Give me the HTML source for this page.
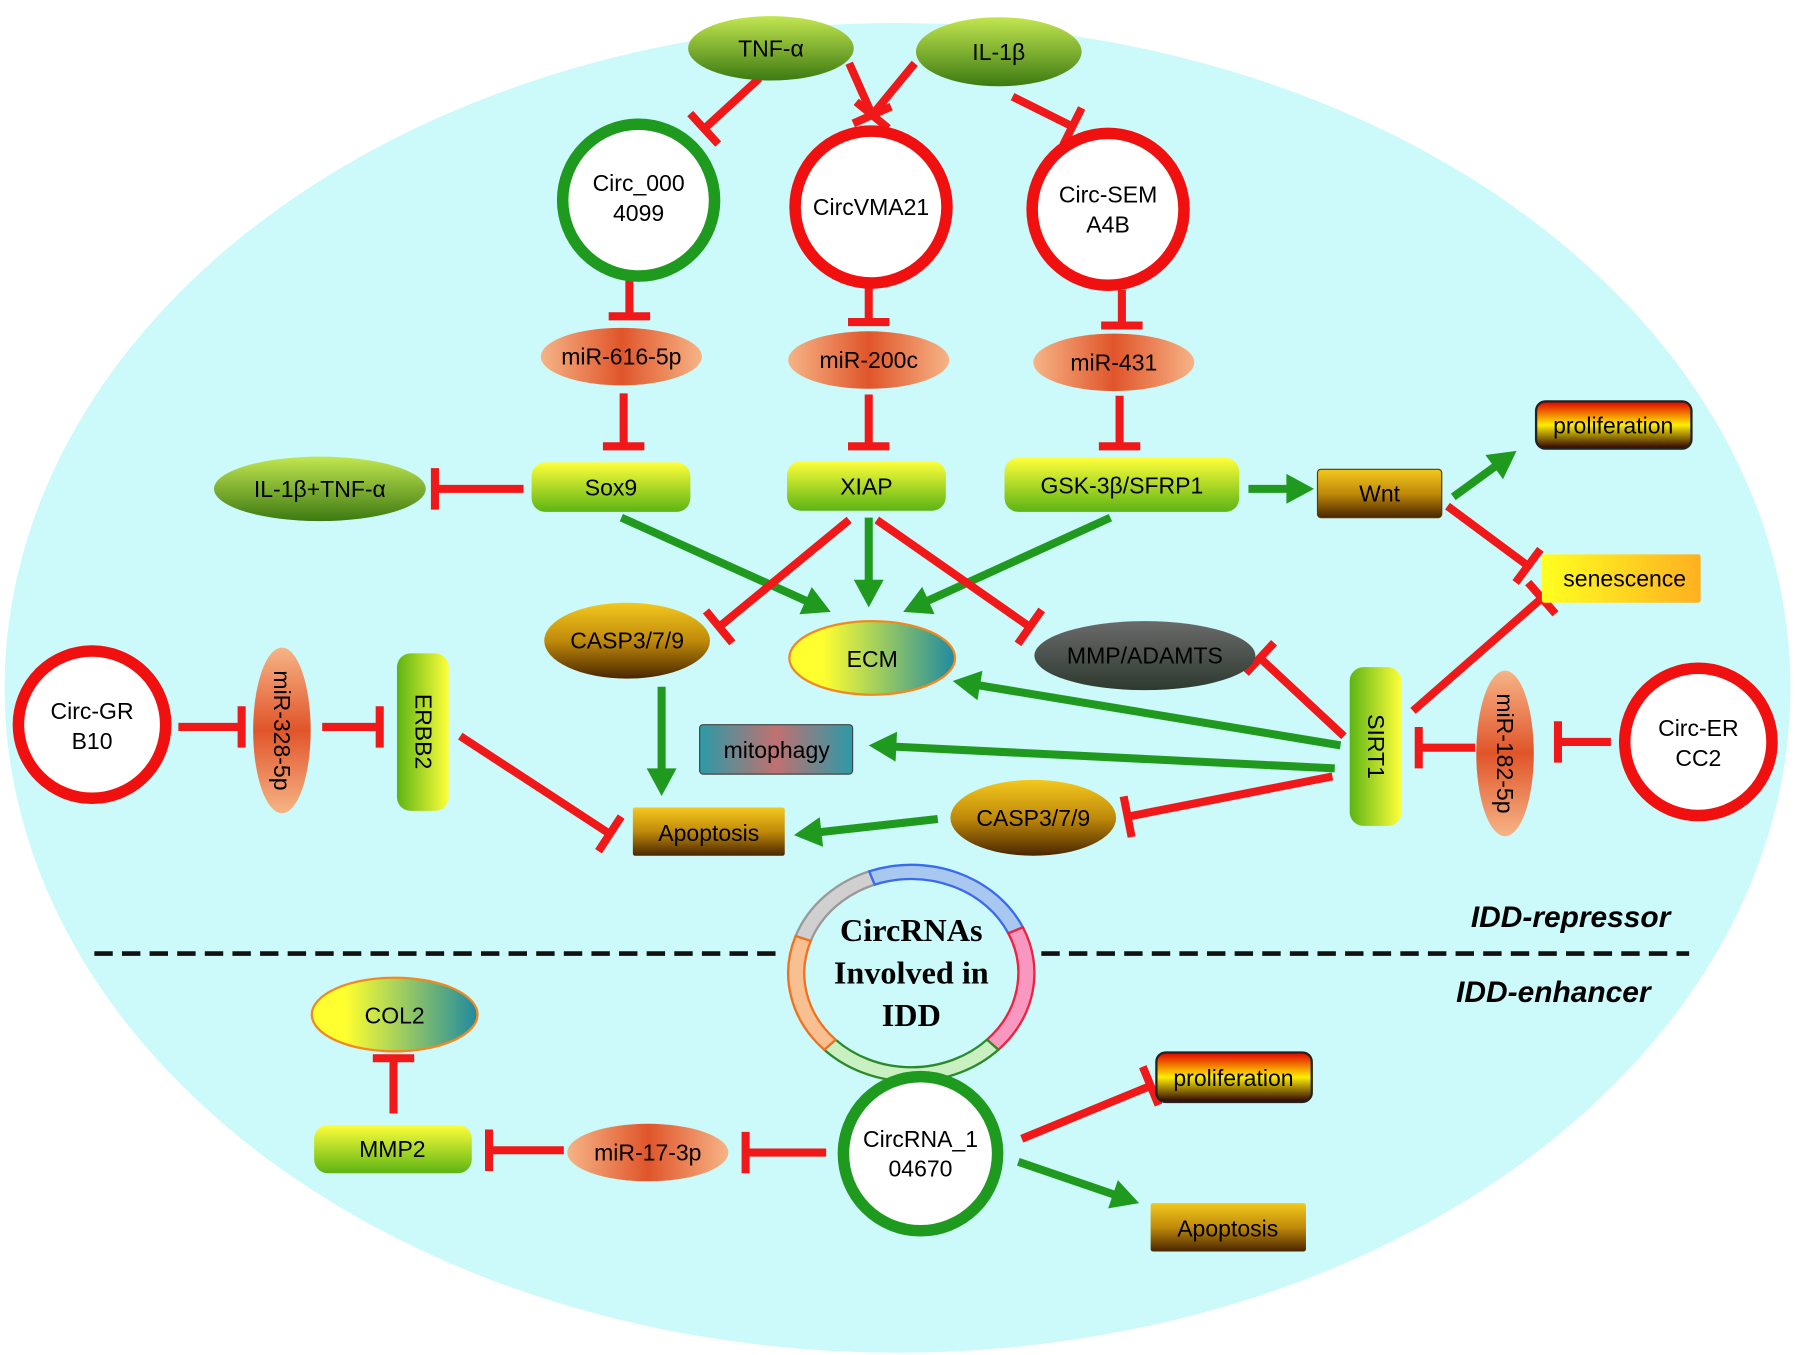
<!DOCTYPE html>
<html><head><meta charset="utf-8"><style>
html,body{margin:0;padding:0;background:#fff;}
svg{display:block;}
text{font-family:"Liberation Sans",sans-serif;}
</style></head><body>
<svg id="s" width="1795" height="1355" viewBox="0 0 1560 1178" preserveAspectRatio="none" xmlns="http://www.w3.org/2000/svg">
<defs>
<linearGradient id="gGreen" x1="0" y1="0" x2="0" y2="1"><stop offset="0" stop-color="#c2e650"/><stop offset="1" stop-color="#3d7a12"/></linearGradient>
<linearGradient id="gMir" x1="0" y1="0" x2="1" y2="0"><stop offset="0" stop-color="#f6b486"/><stop offset="0.5" stop-color="#e0552a"/><stop offset="1" stop-color="#f6b486"/></linearGradient>
<linearGradient id="gMirV" x1="0" y1="0" x2="0" y2="1"><stop offset="0" stop-color="#f6b486"/><stop offset="0.5" stop-color="#e0552a"/><stop offset="1" stop-color="#f6b486"/></linearGradient>
<linearGradient id="gYG" x1="0" y1="0" x2="0" y2="1"><stop offset="0" stop-color="#ffff3a"/><stop offset="1" stop-color="#5cb414"/></linearGradient>
<linearGradient id="gYGh" x1="0" y1="0" x2="1" y2="0"><stop offset="0" stop-color="#5cb414"/><stop offset="1" stop-color="#ffff3a"/></linearGradient>
<linearGradient id="gGold" x1="0" y1="0" x2="0" y2="1"><stop offset="0" stop-color="#f3c81e"/><stop offset="0.5" stop-color="#c08a0a"/><stop offset="1" stop-color="#4a2600"/></linearGradient>
<linearGradient id="gProl" x1="0" y1="0" x2="0" y2="1"><stop offset="0" stop-color="#e00000"/><stop offset="0.5" stop-color="#ffee00"/><stop offset="1" stop-color="#2a0000"/></linearGradient>
<linearGradient id="gSen" x1="0" y1="0" x2="1" y2="0"><stop offset="0" stop-color="#ffff20"/><stop offset="1" stop-color="#ffb020"/></linearGradient>
<linearGradient id="gECM" x1="0" y1="0" x2="1" y2="0"><stop offset="0.2" stop-color="#ffff30"/><stop offset="1" stop-color="#1f8aa0"/></linearGradient>
<linearGradient id="gMMP" x1="0" y1="0" x2="0" y2="1"><stop offset="0" stop-color="#6a6a6a"/><stop offset="1" stop-color="#2e3a30"/></linearGradient>
<linearGradient id="gMito" x1="0" y1="0" x2="1" y2="0"><stop offset="0" stop-color="#2c9aa8"/><stop offset="0.5" stop-color="#c07070"/><stop offset="1" stop-color="#2c9aa8"/></linearGradient>
</defs>
<ellipse cx="780" cy="598" rx="776" ry="578" fill="#ccf9f9"/>
<g id="edges"></g>
<ellipse cx="670" cy="42" rx="72" ry="28" fill="url(#gGreen)"/>
<text x="670" y="49" text-anchor="middle" font-size="20">TNF-α</text>
<ellipse cx="868" cy="45" rx="72" ry="30" fill="url(#gGreen)"/>
<text x="868" y="52" text-anchor="middle" font-size="20">IL-1β</text>
<circle cx="555" cy="174" r="66" fill="#fff" stroke="#1e9a1e" stroke-width="10"/>
<text x="555" y="166" text-anchor="middle" font-size="20">Circ_000</text><text x="555" y="192" text-anchor="middle" font-size="20">4099</text>
<circle cx="757" cy="180" r="66" fill="#fff" stroke="#f01010" stroke-width="10"/>
<text x="757" y="187" text-anchor="middle" font-size="20">CircVMA21</text>
<circle cx="963" cy="182" r="66" fill="#fff" stroke="#f01010" stroke-width="10"/>
<text x="963" y="176" text-anchor="middle" font-size="20">Circ-SEM</text><text x="963" y="202" text-anchor="middle" font-size="20">A4B</text>
<ellipse cx="540" cy="310" rx="70" ry="25" fill="url(#gMir)"/><text x="540" y="317" text-anchor="middle" font-size="20">miR-616-5p</text>
<ellipse cx="755" cy="313" rx="70" ry="25" fill="url(#gMir)"/><text x="755" y="320" text-anchor="middle" font-size="20">miR-200c</text>
<ellipse cx="968" cy="315" rx="70" ry="25" fill="url(#gMir)"/><text x="968" y="322" text-anchor="middle" font-size="20">miR-431</text>
<rect x="462" y="402" width="138" height="43" rx="12" fill="url(#gYG)"/><text x="531" y="431" text-anchor="middle" font-size="20">Sox9</text>
<rect x="684" y="401" width="138" height="43" rx="12" fill="url(#gYG)"/><text x="753" y="430" text-anchor="middle" font-size="20">XIAP</text>
<rect x="873" y="398" width="204" height="47" rx="12" fill="url(#gYG)"/><text x="975" y="429" text-anchor="middle" font-size="20">GSK-3β/SFRP1</text>
<ellipse cx="278" cy="425" rx="92" ry="28" fill="url(#gGreen)"/><text x="278" y="432" text-anchor="middle" font-size="20">IL-1β+TNF-α</text>
<rect x="1145" y="408" width="108" height="42" rx="3" fill="url(#gGold)" stroke="#5a3a00" stroke-width="1"/><text x="1199" y="436" text-anchor="middle" font-size="20">Wnt</text>
<rect x="1335" y="349" width="135" height="41" rx="8" fill="url(#gProl)" stroke="#222" stroke-width="2"/><text x="1402" y="377" text-anchor="middle" font-size="20">proliferation</text>
<rect x="1340" y="482" width="138" height="42" rx="2" fill="url(#gSen)"/><text x="1412" y="510" text-anchor="middle" font-size="20">senescence</text>
<ellipse cx="545" cy="557" rx="72" ry="33" fill="url(#gGold)"/><text x="545" y="564" text-anchor="middle" font-size="20">CASP3/7/9</text>
<ellipse cx="758" cy="572" rx="72" ry="32" fill="url(#gECM)" stroke="#f08a20" stroke-width="2"/><text x="758" y="580" text-anchor="middle" font-size="20">ECM</text>
<ellipse cx="995" cy="570" rx="96" ry="30" fill="url(#gMMP)"/><text x="995" y="577" text-anchor="middle" font-size="20">MMP/ADAMTS</text>
<circle cx="80" cy="630" r="64" fill="#fff" stroke="#f01010" stroke-width="10"/>
<text x="80" y="625" text-anchor="middle" font-size="20">Circ-GR</text><text x="80" y="651" text-anchor="middle" font-size="20">B10</text>
<ellipse cx="245" cy="635" rx="25" ry="72" fill="url(#gMirV)"/><text transform="translate(238,635) rotate(90)" text-anchor="middle" font-size="20">miR-328-5p</text>
<rect x="345" y="568" width="45" height="137" rx="12" fill="url(#gYGh)"/><text transform="translate(361,636) rotate(90)" text-anchor="middle" font-size="20">ERBB2</text>
<rect x="608" y="630" width="133" height="43" rx="3" fill="url(#gMito)" stroke="#444" stroke-width="1"/><text x="675" y="659" text-anchor="middle" font-size="20">mitophagy</text>
<rect x="1173" y="580" width="45" height="138" rx="12" fill="url(#gYGh)"/><text transform="translate(1189,649) rotate(90)" text-anchor="middle" font-size="20">SIRT1</text>
<ellipse cx="1308" cy="655" rx="25" ry="72" fill="url(#gMirV)"/><text transform="translate(1301,655) rotate(90)" text-anchor="middle" font-size="20">miR-182-5p</text>
<circle cx="1476" cy="645" r="64" fill="#fff" stroke="#f01010" stroke-width="10"/>
<text x="1476" y="640" text-anchor="middle" font-size="20">Circ-ER</text><text x="1476" y="666" text-anchor="middle" font-size="20">CC2</text>
<rect x="550" y="702" width="132" height="42" rx="2" fill="url(#gGold)"/><text x="616" y="731" text-anchor="middle" font-size="20">Apoptosis</text>
<ellipse cx="898" cy="711" rx="72" ry="33" fill="url(#gGold)"/><text x="898" y="718" text-anchor="middle" font-size="20">CASP3/7/9</text>
<text x="1365" y="806" text-anchor="middle" font-size="26" font-weight="bold" font-style="italic">IDD-repressor</text>
<text x="1350" y="871" text-anchor="middle" font-size="26" font-weight="bold" font-style="italic">IDD-enhancer</text>
<line x1="82" y1="829" x2="678" y2="829" stroke="#111" stroke-width="4" stroke-dasharray="16,8"/>
<line x1="905" y1="829" x2="1468" y2="829" stroke="#111" stroke-width="4" stroke-dasharray="16,8"/>
<g id="ring"></g>
<text x="792" y="818" text-anchor="middle" font-size="28" font-weight="bold" style="font-family:'Liberation Serif',serif">CircRNAs</text>
<text x="792" y="855" text-anchor="middle" font-size="28" font-weight="bold" style="font-family:'Liberation Serif',serif">Involved in</text>
<text x="792" y="892" text-anchor="middle" font-size="28" font-weight="bold" style="font-family:'Liberation Serif',serif">IDD</text>
<ellipse cx="343" cy="882" rx="72" ry="32" fill="url(#gECM)" stroke="#f08a20" stroke-width="2"/><text x="343" y="890" text-anchor="middle" font-size="20">COL2</text>
<rect x="273" y="978" width="137" height="42" rx="12" fill="url(#gYG)"/><text x="341" y="1006" text-anchor="middle" font-size="20">MMP2</text>
<ellipse cx="563" cy="1002" rx="70" ry="25" fill="url(#gMir)"/><text x="563" y="1009" text-anchor="middle" font-size="20">miR-17-3p</text>
<circle cx="800" cy="1003" r="67" fill="#fff" stroke="#1e9a1e" stroke-width="10"/>
<text x="800" y="997" text-anchor="middle" font-size="20">CircRNA_1</text><text x="800" y="1023" text-anchor="middle" font-size="20">04670</text>
<rect x="1005" y="915" width="135" height="43" rx="8" fill="url(#gProl)" stroke="#222" stroke-width="2"/><text x="1072" y="944" text-anchor="middle" font-size="20">proliferation</text>
<rect x="1000" y="1046" width="135" height="42" rx="2" fill="url(#gGold)"/><text x="1067" y="1075" text-anchor="middle" font-size="20">Apoptosis</text>
<script>
var NS="http://www.w3.org/2000/svg",E=document.getElementById("edges");
function el(t,a,p){var e=document.createElementNS(NS,t);for(var k in a)e.setAttribute(k,a[k]);(p||E).appendChild(e);return e;}
function inh(x1,y1,x2,y2){el("line",{x1:x1,y1:y1,x2:x2,y2:y2,stroke:"#f01818","stroke-width":7});
 var dx=x2-x1,dy=y2-y1,l=Math.hypot(dx,dy),px=-dy/l*18,py=dx/l*18;
 el("line",{x1:x2+px,y1:y2+py,x2:x2-px,y2:y2-py,stroke:"#f01818","stroke-width":7});}
function act(x1,y1,x2,y2){var dx=x2-x1,dy=y2-y1,l=Math.hypot(dx,dy),ux=dx/l,uy=dy/l;
 var bx=x2-ux*24,by=y2-uy*24;
 el("line",{x1:x1,y1:y1,x2:bx+ux*2,y2:by+uy*2,stroke:"#1f9a1f","stroke-width":7});
 el("polygon",{points:x2+","+y2+" "+(bx-uy*13)+","+(by+ux*13)+" "+(bx+uy*13)+","+(by-ux*13),fill:"#1f9a1f"});}
inh(660,68,612,112);inh(738,55,758,100);inh(795,55,758,100);inh(880,84,932,110);
inh(547,244,547,275);inh(755,250,755,280);inh(975,252,975,283);
inh(542,342,542,388);inh(755,343,755,388);inh(973,344,973,388);
inh(455,425,378,425);
act(1085,425,1142,425);act(1263,432,1318,392);inh(1258,440,1328,492);
act(540,450,722,532);act(755,450,755,528);act(965,450,785,532);
inh(738,452,625,545);inh(762,452,895,545);
inh(1228,618,1340,520);inh(1168,640,1095,572);act(1165,648,828,592);act(1160,668,755,648);inh(1158,675,980,710);
inh(1282,650,1233,650);inh(1400,645,1354,645);inh(155,632,210,632);inh(280,632,330,632);
inh(400,640,530,725);act(575,597,575,692);act(815,712,690,726);
inh(342,968,342,920);inh(490,1000,425,1000);inh(718,1002,648,1002);
inh(888,990,1000,944);act(885,1010,990,1046);
var R=document.getElementById("ring"),cx=792,cy=846,rx=100,ry=88;
var segs=[[200,250,"#d0d0d0","#999"],[250,335,"#a8c8f0","#3a6af0"],[335,405,"#f898c0","#f02040"],[405,495,"#c8f0c0","#2a8a2a"],[495,560,"#f8c090","#f07020"]];
function pt(a,k){var r=a*Math.PI/180;return [cx+rx*k*Math.cos(r),cy+ry*k*Math.sin(r)];}
segs.forEach(function(s){var a=s[0],b=s[1],o1=pt(a,1.07),o2=pt(b,1.07),i1=pt(b,0.93),i2=pt(a,0.93);
 el("path",{d:"M"+o1+" A"+rx*1.07+","+ry*1.07+" 0 0 1 "+o2+" L"+i1+" A"+rx*0.93+","+ry*0.93+" 0 0 0 "+i2+" Z",fill:s[2],stroke:s[3],"stroke-width":2},R);});
</script>
</svg>
</body></html>
